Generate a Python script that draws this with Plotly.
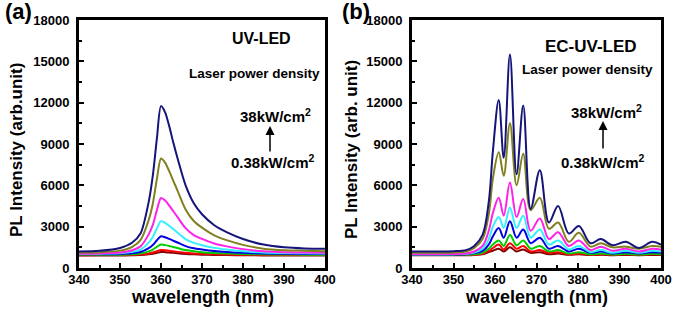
import plotly.graph_objects as go

# ---------------- Panel (a): UV-LED ----------------
wl_a = [340, 345, 350, 353, 355, 357, 358, 359, 360, 361, 362, 363, 364, 366, 368, 370, 373, 376, 380, 385, 390, 395, 400]
a_navy = [1200, 1250, 1450, 1850, 2500, 4800, 6700, 9400, 11750, 11300, 10300, 9100, 8000, 6000, 4700, 3900, 3100, 2600, 2100, 1700, 1500, 1420, 1400]
a_olive = [1120, 1150, 1260, 1540, 2020, 3480, 4660, 6470, 7950, 7650, 7030, 6330, 5640, 4250, 3410, 2930, 2370, 2020, 1680, 1400, 1290, 1260, 1220]
a_magenta = [1040, 1060, 1120, 1290, 1570, 2440, 3130, 4200, 5080, 4900, 4530, 4120, 3710, 2890, 2390, 2110, 1780, 1570, 1370, 1210, 1140, 1120, 1100]
a_cyan = [1020, 1040, 1070, 1170, 1340, 1840, 2250, 2870, 3400, 3280, 3060, 2820, 2580, 2100, 1820, 1650, 1460, 1340, 1220, 1120, 1080, 1070, 1060]
a_blue = [990, 1000, 1020, 1070, 1160, 1440, 1670, 2010, 2300, 2230, 2110, 1980, 1850, 1590, 1430, 1340, 1230, 1160, 1100, 1050, 1030, 1020, 1010]
a_green = [960, 960, 970, 1000, 1060, 1210, 1340, 1540, 1700, 1660, 1600, 1520, 1450, 1300, 1210, 1150, 1090, 1060, 1020, 990, 980, 970, 970]
a_red = [930, 935, 940, 960, 980, 1060, 1120, 1220, 1300, 1280, 1250, 1210, 1170, 1100, 1060, 1030, 1000, 980, 960, 950, 940, 940, 940]
a_darkred = [900, 900, 905, 920, 935, 990, 1035, 1100, 1160, 1150, 1125, 1100, 1070, 1020, 990, 970, 950, 935, 925, 915, 910, 905, 905]

# ---------------- Panel (b): EC-UV-LED ----------------
wl_b = [340, 345, 350, 353, 355, 357, 358.5, 359.5, 360.9, 362.1, 363.6, 365.2, 366.8, 368.6, 370.8, 373, 375.2, 377.8, 380.2, 383, 385.5, 388.3, 391.5, 394.7, 397.9, 400]
b_navy = [1200, 1200, 1220, 1300, 1600, 2400, 4800, 8500, 12200, 8000, 15500, 6800, 11800, 4300, 7100, 3300, 4500, 2500, 3050, 1800, 2100, 1650, 1900, 1450, 1900, 1700]
b_olive = [1100, 1100, 1120, 1200, 1450, 2100, 3900, 6500, 8400, 6700, 10500, 6000, 8300, 4200, 5100, 2850, 3300, 1900, 2550, 1550, 1800, 1500, 1550, 1400, 1600, 1550]
b_magenta = [1000, 1000, 1010, 1050, 1200, 1600, 2700, 4000, 5100, 3800, 6200, 3700, 5000, 2700, 3600, 2100, 2600, 1600, 2000, 1300, 1550, 1250, 1400, 1200, 1400, 1350]
b_cyan = [1000, 1000, 1005, 1030, 1120, 1400, 2100, 3000, 3700, 2900, 4400, 2900, 3800, 2200, 2800, 1700, 2000, 1350, 1600, 1150, 1300, 1100, 1250, 1100, 1250, 1200]
b_blue = [980, 980, 985, 1000, 1080, 1250, 1700, 2300, 2900, 2200, 3400, 2200, 2800, 1800, 2200, 1400, 1600, 1200, 1400, 1100, 1200, 1050, 1150, 1050, 1150, 1100]
b_green = [950, 950, 955, 960, 1000, 1100, 1400, 1700, 2000, 1600, 2400, 1650, 2000, 1400, 1600, 1200, 1300, 1050, 1150, 1000, 1050, 980, 1030, 980, 1030, 1000]
b_red = [950, 950, 950, 950, 970, 1030, 1250, 1450, 1700, 1350, 1800, 1400, 1600, 1200, 1300, 1100, 1150, 1000, 1050, 970, 1000, 960, 990, 960, 990, 980]
b_darkred = [930, 930, 930, 930, 950, 1000, 1150, 1250, 1400, 1200, 1500, 1200, 1350, 1100, 1150, 1000, 1050, 960, 990, 940, 960, 930, 950, 930, 950, 940]

colors = ["#800000", "#ff0000", "#00cc00", "#0000e0", "#33f0ff", "#ff22e8", "#808020", "#14147a"]
series_a = [a_darkred, a_red, a_green, a_blue, a_cyan, a_magenta, a_olive, a_navy]
series_b = [b_darkred, b_red, b_green, b_blue, b_cyan, b_magenta, b_olive, b_navy]
names = ["0.38kW/cm²", "p2", "p3", "p4", "p5", "p6", "p7", "38kW/cm²"]

x_ticks = [340, 350, 360, 370, 380, 390, 400]
x_labels = ["340", "350", "360", "370", "380", "390", "400"]
y_ticks = [0, 3000, 6000, 9000, 12000, 15000, 18000]
y_labels = ["0", "3000", "6000", "9000", "12000", "15000", "18000"]

W, H = 675, 314
fig = go.Figure()
for ys, c, n in zip(series_a, colors, names):
    fig.add_trace(go.Scatter(x=wl_a, y=ys, mode="lines", name=n, showlegend=False,
                             line=dict(color=c, width=2, shape="spline", smoothing=0.8),
                             xaxis="x", yaxis="y"))
for ys, c, n in zip(series_b, colors, names):
    fig.add_trace(go.Scatter(x=wl_b, y=ys, mode="lines", name=n, showlegend=False,
                             line=dict(color=c, width=2, shape="spline", smoothing=1.0),
                             xaxis="x2", yaxis="y2"))

FONT = "Liberation Sans, Arial, sans-serif"
def px(xp):
    return xp / W
def py(yp):
    return 1 - yp / H

xdom_a = [px(79), px(325)]
xdom_b = [px(412), px(661)]
ydom = [py(268), py(20)]

axis_common = dict(showline=True, linewidth=3, linecolor="black", mirror=True,
                   ticks="inside", ticklen=5, tickwidth=2, tickcolor="black",
                   showgrid=False, zeroline=False, automargin=False,
                   tickfont=dict(family=FONT, size=13, color="black", weight="bold"))
xa = dict(axis_common, range=[340, 400], tickvals=x_ticks, ticktext=x_labels,
          ticklabelstandoff=-3,
          minor=dict(ticks="inside", ticklen=3, tickwidth=2, dtick=5, tickcolor="black"))
ya = dict(axis_common, range=[0, 18000], tickvals=y_ticks, ticktext=y_labels,
          ticklabelstandoff=4,
          minor=dict(ticks="inside", ticklen=3, tickwidth=2, dtick=1500, tickcolor="black"))

fig.update_layout(
    width=W, height=H,
    margin=dict(l=0, r=0, t=0, b=0),
    paper_bgcolor="white", plot_bgcolor="white",
    font=dict(family=FONT, color="black"),
    xaxis=dict(xa, domain=xdom_a, anchor="y"),
    yaxis=dict(ya, domain=ydom, anchor="x"),
    xaxis2=dict(xa, domain=xdom_b, anchor="y2"),
    yaxis2=dict(ya, domain=ydom, anchor="x2"),
)

def txt(x, y, s, size, **kw):
    fig.add_annotation(x=px(x), y=py(y), xref="paper", yref="paper", text=s, showarrow=False,
                       xanchor="center", yanchor="middle",
                       font=dict(family=FONT, size=size, color="black", weight="bold"), **kw)

# panel labels
txt(18, 12, "(a)", 22)
txt(356, 12, "(b)", 22)
# axis titles
for cx in [(79 + 325) / 2, (412 + 661) / 2]:
    txt(cx, 297, "wavelength (nm)", 18)
txt(16, 150, "PL Intensity (arb.unit)", 17, textangle=-90)
txt(351, 150, "PL Intensity (arb. unit)", 17, textangle=-90)
# in-plot labels
txt(261, 39, "UV-LED", 16)
txt(591, 47, "EC-UV-LED", 17)
txt(254, 73, "Laser power density", 13.5)
txt(587, 70, "Laser power density", 13.5)
txt(275, 115, "38kW/cm<sup>2</sup>", 15)
txt(606, 111, "38kW/cm<sup>2</sup>", 15)
txt(273, 161, "0.38kW/cm<sup>2</sup>", 15)
txt(603, 161, "0.38kW/cm<sup>2</sup>", 15)
# arrows
for ax_x, tip, tail in [(270, 126, 153), (603, 121, 150)]:
    fig.add_annotation(x=px(ax_x), y=py(tip), xref="paper", yref="paper", text="",
                       showarrow=True, ax=0, ay=tail - tip, arrowhead=2, arrowsize=1.2,
                       arrowwidth=1.5, arrowcolor="black")

fig.write_html("out.html", config={"displayModeBar": False},
               post_script="document.body.style.margin='0';document.body.style.overflow='hidden';")
